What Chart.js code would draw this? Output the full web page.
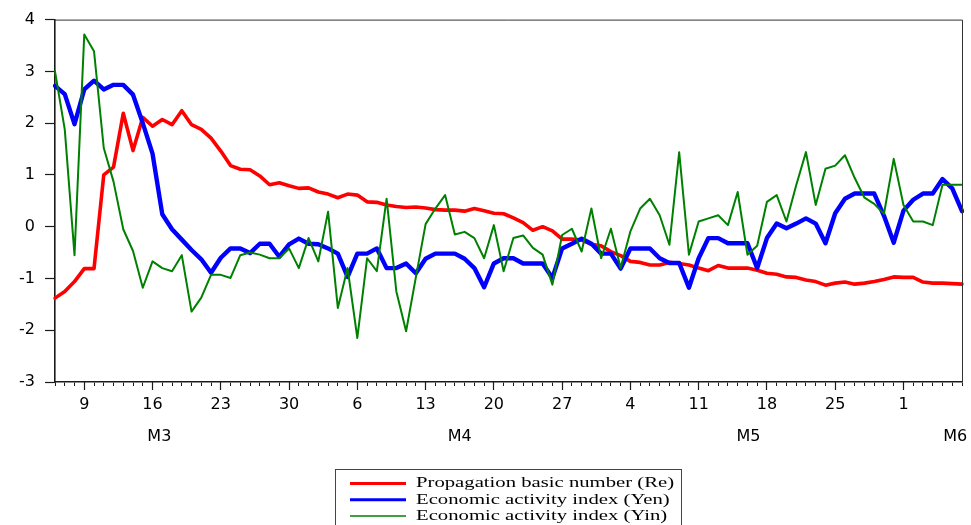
<!DOCTYPE html>
<html>
<head>
<meta charset="utf-8">
<script src="https://cdn.jsdelivr.net/npm/chart.js@4.4.1/dist/chart.umd.min.js"></script>
<style>
  html, body { margin: 0; padding: 0; background: #ffffff; }
  #wrap { width: 971px; height: 525px; position: relative; }
</style>
</head>
<body>
<div id="wrap"><canvas id="chart"></canvas></div>
<script>
// Daily observations, 6 March to 7 June
const categories = [
  '3/6','3/7','3/8','3/9','3/10','3/11','3/12','3/13','3/14','3/15','3/16','3/17','3/18','3/19','3/20',
  '3/21','3/22','3/23','3/24','3/25','3/26','3/27','3/28','3/29','3/30','3/31',
  '4/1','4/2','4/3','4/4','4/5','4/6','4/7','4/8','4/9','4/10','4/11','4/12','4/13','4/14','4/15',
  '4/16','4/17','4/18','4/19','4/20','4/21','4/22','4/23','4/24','4/25','4/26','4/27','4/28','4/29','4/30',
  '5/1','5/2','5/3','5/4','5/5','5/6','5/7','5/8','5/9','5/10','5/11','5/12','5/13','5/14','5/15',
  '5/16','5/17','5/18','5/19','5/20','5/21','5/22','5/23','5/24','5/25','5/26','5/27','5/28','5/29','5/30','5/31',
  '6/1','6/2','6/3','6/4','6/5','6/6','6/7'
];

// Propagation basic number (Re)
const reValues = [
  -1.38, -1.25, -1.06, -0.81, -0.81, 1.00, 1.15, 2.19, 1.47, 2.11,
  1.94, 2.07, 1.97, 2.24, 1.97, 1.88, 1.71, 1.46, 1.18, 1.11,
  1.10, 0.98, 0.81, 0.85, 0.79, 0.74, 0.75, 0.67, 0.63, 0.56,
  0.63, 0.61, 0.48, 0.47, 0.42, 0.39, 0.37, 0.38, 0.36, 0.33,
  0.32, 0.32, 0.30, 0.35, 0.31, 0.26, 0.25, 0.17, 0.08, -0.07,
  0.00, -0.08, -0.24, -0.24, -0.26, -0.34, -0.37, -0.48, -0.56, -0.67,
  -0.69, -0.74, -0.74, -0.69, -0.71, -0.74, -0.80, -0.85, -0.75, -0.80,
  -0.80, -0.80, -0.84, -0.90, -0.92, -0.97, -0.98, -1.03, -1.06, -1.13,
  -1.09, -1.07, -1.11, -1.09, -1.06, -1.02, -0.97, -0.98, -0.98, -1.07,
  -1.09, -1.09, -1.10, -1.11
];

// Economic activity index (Yen)
const yenValues = [
  2.72, 2.56, 1.98, 2.65, 2.82, 2.65, 2.74, 2.74, 2.55, 2.00,
  1.41, 0.24, -0.05, -0.25, -0.45, -0.63, -0.89, -0.60, -0.42, -0.42,
  -0.51, -0.33, -0.33, -0.58, -0.34, -0.23, -0.33, -0.34, -0.42, -0.52,
  -0.97, -0.52, -0.52, -0.42, -0.80, -0.80, -0.71, -0.90, -0.62, -0.52,
  -0.52, -0.52, -0.62, -0.80, -1.17, -0.71, -0.61, -0.61, -0.71, -0.71,
  -0.71, -0.99, -0.42, -0.33, -0.23, -0.33, -0.52, -0.52, -0.81, -0.42,
  -0.42, -0.42, -0.61, -0.70, -0.70, -1.18, -0.61, -0.22, -0.22, -0.32,
  -0.32, -0.32, -0.80, -0.22, 0.06, -0.03, 0.06, 0.16, 0.06, -0.32,
  0.26, 0.54, 0.64, 0.64, 0.64, 0.21, -0.31, 0.31, 0.52, 0.64,
  0.64, 0.92, 0.74, 0.30
];

// Economic activity index (Yin)
const yinValues = [
  3.00, 1.88, -0.55, 3.71, 3.39, 1.52, 0.87, -0.05, -0.47, -1.18,
  -0.67, -0.80, -0.86, -0.55, -1.64, -1.37, -0.93, -0.93, -0.99, -0.55,
  -0.50, -0.54, -0.61, -0.61, -0.42, -0.80, -0.22, -0.67, 0.29, -1.57,
  -0.80, -2.15, -0.61, -0.86, 0.54, -1.25, -2.02, -0.98, 0.05, 0.35,
  0.61, -0.15, -0.10, -0.22, -0.61, 0.03, -0.86, -0.22, -0.17, -0.41,
  -0.54, -1.12, -0.16, -0.04, -0.48, 0.35, -0.61, -0.04, -0.80, -0.09,
  0.35, 0.54, 0.22, -0.35, 1.44, -0.54, 0.10, 0.16, 0.22, 0.03,
  0.67, -0.54, -0.37, 0.48, 0.61, 0.10, 0.80, 1.44, 0.42, 1.12,
  1.18, 1.38, 0.94, 0.56, 0.44, 0.25, 1.31, 0.42, 0.10, 0.10,
  0.03, 0.81, 0.81, 0.81
];

// Labelled days on the time axis and the month row beneath them
const dayTicks = ['3/9','3/16','3/23','3/30','4/6','4/13','4/20','4/27','5/4','5/11','5/18','5/25','6/1'];
const monthNames = ['M3', 'M4', 'M5', 'M6'];
const seriesNames = [
  'Propagation basic number (Re)',
  'Economic activity index (Yen)',
  'Economic activity index (Yin)'
];

// ---- layout helpers ----
const monthLabelAt = [10.7, 41.5, 71.1, 92.3];   // index positions of the month captions
const tickFont = { family: 'DejaVu Sans', size: 16 };
const axisColor = '#1a1a1a';

const frame = {
  id: 'frame',
  afterDraw(chart) {
    const { ctx, chartArea: a } = chart;
    ctx.save();
    ctx.strokeStyle = '#333';
    ctx.lineWidth = 1;
    ctx.beginPath();
    ctx.moveTo(a.left, a.top + 0.5);
    ctx.lineTo(a.right + 0.5, a.top + 0.5);
    ctx.lineTo(a.right + 0.5, a.bottom);
    ctx.stroke();
    ctx.restore();
  }
};

const boxedLegend = {
  id: 'boxedLegend',
  afterDraw(chart) {
    const ctx = chart.ctx;
    const left = 335.5, top = 469.5, width = 346, height = 80;
    ctx.save();
    ctx.fillStyle = '#ffffff';
    ctx.fillRect(left, top, width, height);
    ctx.strokeStyle = '#444';
    ctx.lineWidth = 1;
    ctx.strokeRect(left, top, width, height);
    chart.data.datasets.forEach((ds, i) => {
      const y = 483.5 + i * 16.3;
      ctx.strokeStyle = ds.borderColor;
      ctx.lineWidth = ds.legendLine;
      ctx.beginPath();
      ctx.moveTo(350, y);
      ctx.lineTo(406, y);
      ctx.stroke();
      ctx.save();
      ctx.translate(416, y);
      ctx.scale(1.38, 1);
      ctx.fillStyle = '#000';
      ctx.font = '15px "Liberation Serif"';
      ctx.textBaseline = 'middle';
      ctx.fillText(ds.label, 0, 0);
      ctx.restore();
    });
    ctx.restore();
  }
};

const lineStyle = (label, data, color, width, legendLine, order) => ({
  label, data,
  borderColor: color,
  backgroundColor: color,
  borderWidth: width,
  legendLine,
  order,
  pointRadius: 0,
  pointHoverRadius: 0,
  tension: 0,
  fill: false,
  borderJoinStyle: 'round',
  borderCapStyle: 'round'
});

new Chart(document.getElementById('chart'), {
  type: 'line',
  data: {
    labels: categories,
    datasets: [
      lineStyle(seriesNames[0], reValues, '#ff0000', 3.6, 3, 3),
      lineStyle(seriesNames[1], yenValues, '#0000ff', 4.4, 3, 2),
      lineStyle(seriesNames[2], yinValues, '#008000', 2, 1.5, 1)
    ]
  },
  options: {
    responsive: true,
    maintainAspectRatio: false,
    animation: false,
    devicePixelRatio: 1,
    layout: { padding: { left: 0, right: 9, top: 16, bottom: 64 } },
    plugins: {
      legend: { display: false },
      tooltip: { enabled: false }
    },
    scales: {
      y: {
        min: -3, max: 4,
        ticks: { stepSize: 1, font: tickFont, color: '#000', padding: 10 },
        grid: { drawOnChartArea: false, tickLength: 10, tickColor: axisColor, tickWidth: 1.2 },
        border: { display: true, color: axisColor, width: 1.6 },
        afterFit(scale) { scale.width = 55; }
      },
      xMinor: {
        type: 'category',
        position: 'bottom',
        weight: 0,
        ticks: { display: false, autoSkip: false },
        grid: { drawOnChartArea: false, tickLength: 4, tickColor: axisColor, tickWidth: 1 },
        border: { display: true, color: axisColor, width: 1.6 },
        afterFit(scale) { scale.height = 0; }
      },
      x: {
        type: 'category',
        position: 'bottom',
        weight: 1,
        ticks: {
          autoSkip: false, maxRotation: 0, minRotation: 0,
          font: tickFont, color: '#000', padding: 5,
          callback(value, index) {
            const c = categories[index];
            return dayTicks.includes(c) ? c.split('/')[1] : '';
          }
        },
        grid: {
          drawOnChartArea: false, tickLength: 8, tickWidth: 1.2,
          tickColor: (ctx) => (ctx.tick && dayTicks.includes(categories[ctx.index]) ? axisColor : 'rgba(0,0,0,0)')
        },
        border: { display: false },
        afterFit(scale) { scale.height = 31; }
      },
      xMonth: {
        type: 'linear',
        position: 'bottom',
        weight: 2,
        min: 0,
        max: categories.length - 1,
        afterBuildTicks(scale) { scale.ticks = monthLabelAt.map(v => ({ value: v })); },
        ticks: {
          autoSkip: false, maxRotation: 0, minRotation: 0,
          font: { family: 'DejaVu Sans', size: 16, lineHeight: 3 }, color: '#000', padding: 0,
          callback(value) { return monthNames[monthLabelAt.indexOf(value)]; }
        },
        grid: { display: false, drawTicks: false, drawOnChartArea: false },
        border: { display: false },
        afterFit(scale) { scale.height = 48; }
      }
    }
  },
  plugins: [frame, boxedLegend]
});
</script>
</body>
</html>
